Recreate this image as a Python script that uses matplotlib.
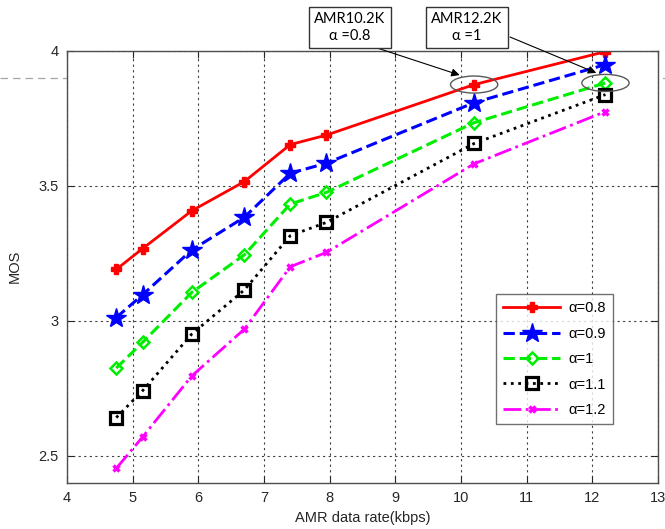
import matplotlib
matplotlib.use("Agg")
import matplotlib.pyplot as plt
from matplotlib.patches import Ellipse
from matplotlib.lines import Line2D

plt.rcParams['font.family'] = ['Liberation Sans', 'DejaVu Sans']

rates = [4.75, 5.15, 5.9, 6.7, 7.4, 7.95, 10.2, 12.2]
mos_08 = [3.19, 3.267, 3.407, 3.515, 3.652, 3.687, 3.874, 3.996]
mos_09 = [3.012, 3.096, 3.262, 3.383, 3.546, 3.583, 3.807, 3.948]
mos_10 = [2.825, 2.920, 3.105, 3.244, 3.432, 3.475, 3.733, 3.880]
mos_11 = [2.642, 2.741, 2.951, 3.114, 3.315, 3.364, 3.656, 3.837]
mos_12 = [2.454, 2.570, 2.796, 2.969, 3.200, 3.253, 3.581, 3.774]
labels = ['\u03b1=0.8', '\u03b1=0.9', '\u03b1=1', '\u03b1=1.1', '\u03b1=1.2']
xticks = [4, 5, 6, 7, 8, 9, 10, 11, 12, 13]
yticks = [2.5, 3, 3.5, 4]

fig = plt.figure(figsize=(6.65, 5.29), dpi=100)
# page artifact dashed line behind axes
fig.add_artist(Line2D([0, 1], [1 - 77.5 / 529, 1 - 77.5 / 529], transform=fig.transFigure,
                      color='0.65', lw=0.9, ls=(0, (6, 4)), zorder=0))
ax = fig.add_axes([67 / 665, 1 - 483 / 529, 591 / 665, 432.5 / 529], zorder=1)
ax.set_facecolor('white')

ax.plot(rates, mos_08, color='red', ls='-', lw=2, marker='P', ms=6.5, label=labels[0])
ax.plot(rates, mos_09, color='blue', ls='--', lw=2.2, marker='*', ms=15, label=labels[1])
ax.plot(rates, mos_10, color='#00ee00', ls='--', lw=2.2, marker='D', ms=6.5, mfc='none',
        mew=1.8, label=labels[2])
ax.plot(rates, mos_11, color='black', ls=':', lw=2, marker='s', ms=8, mfc='none',
        mew=2.3, label=labels[3])
ax.plot(rates, mos_12, color='magenta', ls='-.', lw=2, marker='x', ms=5, mew=2.5,
        label=labels[4])

ax.set_xlim(4, 13)
ax.set_ylim(2.4, 4.0)
ax.set_xticks(xticks)
ax.set_yticks(yticks)
ax.set_yticklabels(['2.5', '3', '3.5', '4'])
ax.grid(True, color='0.25', ls=(0, (2, 3)), lw=0.8)
ax.tick_params(direction='in', length=5, top=True, right=True, labelsize=10.5,
               colors='0.15', pad=6)
for s in ax.spines.values():
    s.set_color('0.3')
    s.set_linewidth(1)
ax.set_xlabel('AMR data rate(kbps)', fontsize=10.5, color='0.15', labelpad=4)
ax.set_ylabel('MOS', fontsize=10.5, color='0.15', labelpad=12)

leg = ax.legend(loc='lower left', bbox_to_anchor=(0.726, 0.136), borderaxespad=0,
                fontsize=10.5, frameon=True, fancybox=False, edgecolor='0.3',
                handlelength=3.9, handletextpad=0.55, labelspacing=0.78, borderpad=0.5)
leg.get_frame().set_linewidth(1)

# ellipses around highlighted points
ax.add_patch(Ellipse((rates[6], mos_08[6]), 0.72, 0.063, fill=False, edgecolor='0.35',
                     lw=1, zorder=5))
ax.add_patch(Ellipse((rates[7], mos_10[7]), 0.72, 0.063, fill=False, edgecolor='0.35',
                     lw=1, zorder=5))

box = dict(boxstyle='square,pad=0.4', fc='white', ec='0.2', lw=1)
fig.text(350 / 665, 1 - 27.5 / 529, 'AMR10.2K\n\u03b1 =0.8', ha='center', va='center',
         fontsize=10.5, family=['Lato', 'DejaVu Sans'], bbox=box, linespacing=1.2)
fig.text(467 / 665, 1 - 27.5 / 529, 'AMR12.2K\n\u03b1 =1', ha='center', va='center',
         fontsize=10.5, family=['Lato', 'DejaVu Sans'], bbox=box, linespacing=1.2)

arrow = dict(arrowstyle='-|>', color='black', lw=0.8, mutation_scale=12, shrinkA=0, shrinkB=0)
ax.annotate('', xy=(9.98, 3.909), xycoords='data', xytext=(368 / 665, 1 - 45 / 529),
            textcoords='figure fraction', arrowprops=arrow, annotation_clip=False)
ax.annotate('', xy=(12.06, 3.917), xycoords='data', xytext=(510 / 665, 1 - 37 / 529),
            textcoords='figure fraction', arrowprops=arrow, annotation_clip=False)

fig.savefig('out.png', dpi=100)
